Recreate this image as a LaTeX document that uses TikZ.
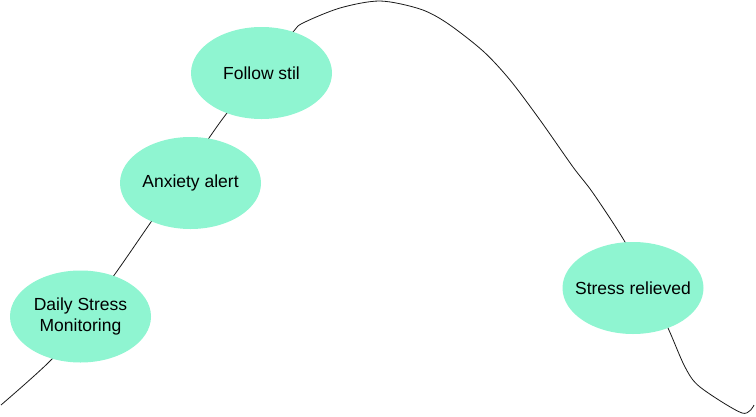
\documentclass[tikz,border=0pt]{standalone}
\usepackage{fontspec}
\setmainfont{Liberation Sans}
\usepackage{tikz}
\usetikzlibrary{shapes.geometric}
\definecolor{mint}{RGB}{143,245,209}
\tikzset{
    stage/.style={ellipse, fill=mint, minimum width=141pt, minimum height=92pt,
        inner xsep=-16pt, inner ysep=0pt, align=center, font=\fontsize{17.5}{21}\selectfont},
    wave/.style={line width=0.8pt, black!90},
}

\begin{document}
\begin{tikzpicture}[x=1pt,y=-1pt]
\useasboundingbox (0,0) rectangle (756,416);
\draw[wave] plot [smooth, tension=0.5] coordinates {(1,405) (52,359) (80,321) (115,274) (151,222) (190,166) (209,138) (227,113) (261,71) (293,32) (303,23) (340,8) (380,1) (420,9) (447,23) (483,51) (510,80) (540,120) (573,167) (593,193) (625,242) (648,288) (668,328) (685,367) (700,387) (742,413) (754,405)};

\node[stage] (daily) at (80.5,316.5) {Daily Stress\\Monitoring};
\node[stage] (anxiety) at (190.5,183) {Anxiety alert};
\node[stage] (follow) at (261.5,73) {Follow stil};
\node[stage] (relieved) at (633,288) {Stress relieved};
\end{tikzpicture}
\end{document}
